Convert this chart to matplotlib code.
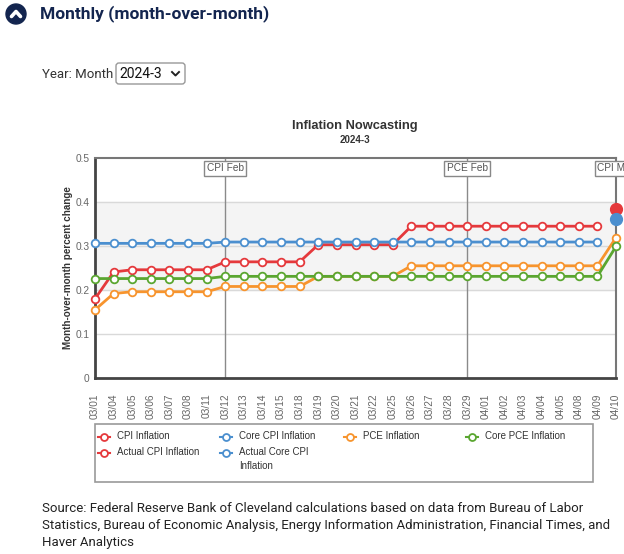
import matplotlib
matplotlib.use("Agg")
import matplotlib.pyplot as plt
from matplotlib.patches import Rectangle, FancyBboxPatch, Circle

dates = ["03/01", "03/04", "03/05", "03/06", "03/07", "03/08", "03/11", "03/12",
         "03/13", "03/14", "03/15", "03/18", "03/19", "03/20", "03/21", "03/22",
         "03/25", "03/26", "03/27", "03/28", "03/29", "04/01", "04/02", "04/03",
         "04/04", "04/05", "04/08", "04/09", "04/10"]
cpi = [0.180, 0.241] + [0.246] * 5 + [0.264] * 5 + [0.303] * 5 + [0.345] * 11
core_cpi = [0.306] * 7 + [0.309] * 21
pce = [0.155, 0.192] + [0.196] * 5 + [0.208] * 5 + [0.231] * 5 + [0.255] * 11 + [0.319]
core_pce = [0.226] * 7 + [0.231] * 21 + [0.299]
actual_cpi = 0.383
actual_core_cpi = 0.362
release_idx = [7, 20, 28]
release_lbl = ["CPI Feb", "PCE Feb", "CPI Mar"]
legend_labels = ["CPI Inflation", "Core CPI Inflation", "PCE Inflation", "Core PCE Inflation",
                 "Actual CPI Inflation", "Actual Core CPI\nInflation"]

RED, BLUE, ORANGE, GREEN = "#e5393c", "#4b8fcf", "#f7942d", "#5aa630"
W, H = 624, 554
plt.rcParams['font.family'] = ['Liberation Sans', 'DejaVu Sans']

fig = plt.figure(figsize=(W / 100, H / 100), dpi=100)
ov = fig.add_axes([0, 0, 1, 1], zorder=0)
ov.set_xlim(0, W); ov.set_ylim(H, 0); ov.axis("off")

# page header
ov.add_patch(Circle((16, 14), 10, color="#13254f"))
ov.plot([11.5, 16, 20.5], [16.5, 11.5, 16.5], color="white", lw=2.6, solid_capstyle="round")
ov.text(40, 14, "Monthly (month-over-month)", fontsize=12.5, fontweight="bold", color="#13254f",
        va="center", ha="left", family=['Roboto'])
ov.text(42, 74, "Year: Month", fontsize=9.5, color="#333333", va="center", family=['Roboto'])
ov.add_patch(FancyBboxPatch((116, 63), 69, 21, boxstyle="round,pad=0,rounding_size=3",
                            fc="white", ec="#999999", lw=1))
ov.text(119, 74, "2024-3", fontsize=10, color="#111111", va="center", family=['Roboto'])
ov.plot([172, 175.5, 179], [72, 75.5, 72], color="#222222", lw=1.4)

# chart titles
ov.text(355, 126, "Inflation Nowcasting", fontsize=9.3, fontweight="bold", color="#333333",
        ha="center", va="center")
ov.text(355, 140, "2024-3", fontsize=7, fontweight="bold", color="#333333",
        ha="center", va="center")

# main plot
ax = fig.add_axes([95 / W, 1 - 378 / H, (616 - 95) / W, (378 - 158) / H], zorder=2)
ax.set_facecolor("none")
x = list(range(len(dates)))
ax.axhspan(0.2, 0.4, color="#f4f4f4", zorder=0)
for v in [0.1, 0.2, 0.3, 0.4]:
    ax.axhline(v, color="#d9d9d9", lw=1, zorder=1)
for i, lbl in zip(release_idx, release_lbl):
    ax.axvline(i, color="#8a8a8a", lw=1, zorder=1)
    ax.text(i, 0.477, lbl, fontsize=7.3, color="#555555", ha="center", va="center", clip_on=False,
            zorder=6, bbox=dict(boxstyle="square,pad=0.25", fc="white", ec="#888888", lw=1))

mk = dict(marker="o", markersize=5.5, markerfacecolor="white", markeredgewidth=1.3,
          lw=2, clip_on=False, zorder=4)
ax.plot(x[:28], cpi, color=RED, **mk)
ax.plot(x[:28], core_cpi, color=BLUE, **mk)
ax.plot(x, pce, color=ORANGE, **mk)
ax.plot(x, core_pce, color=GREEN, **mk)
ax.plot([28], [actual_cpi], "o", color=RED, markersize=8.5, clip_on=False, zorder=5)
ax.plot([28], [actual_core_cpi], "o", color=BLUE, markersize=8.5, clip_on=False, zorder=5)

ax.set_xlim(0, 28)
ax.set_ylim(0, 0.5)
ax.set_yticks([0, 0.1, 0.2, 0.3, 0.4, 0.5])
ax.set_yticklabels(["0", "0.1", "0.2", "0.3", "0.4", "0.5"])
ax.set_xticks(x)
ax.set_xticklabels(dates, rotation=90)
ax.tick_params(axis="both", length=0, labelsize=7.3, labelcolor="#666666")
ax.tick_params(axis="x", pad=11)
ax.tick_params(axis="y", pad=4)
for s in ["top", "right"]:
    ax.spines[s].set_color("#777777"); ax.spines[s].set_linewidth(1.5)
for s in ["left", "bottom"]:
    ax.spines[s].set_color("#444444"); ax.spines[s].set_linewidth(2)
ax.set_ylabel("Month-over-month percent change", fontsize=7.1, fontweight="bold",
              color="#333333", labelpad=1.5)

# legend box, entries placed by hand like the web widget
ov.add_patch(Rectangle((95, 424), 498, 58, fc="white", ec="#999999", lw=1.2))
leg_colors = [RED, BLUE, ORANGE, GREEN, RED, BLUE]
leg_x = [104, 226, 350, 472, 104, 226]
leg_y = [437, 437, 437, 437, 453, 453]
for c, lx, ly, lbl in zip(leg_colors, leg_x, leg_y, legend_labels):
    ov.plot([lx - 6, lx + 6], [ly, ly], color=c, lw=1.5)
    ov.plot([lx], [ly], "o", color=c, markersize=5, markerfacecolor="white", markeredgewidth=1.3)
    ov.text(lx + 13, ly - 6, lbl, fontsize=7, color="#333333", va="top", ha="left",
            linespacing=1.55)

# source note
src = ("Source: Federal Reserve Bank of Cleveland calculations based on data from Bureau of Labor\n"
       "Statistics, Bureau of Economic Analysis, Energy Information Administration, Financial Times, and\n"
       "Haver Analytics")
ov.text(42, 502, src, fontsize=9.55, color="#222222", va="top", ha="left", linespacing=1.4,
        family=['Roboto'])

fig.savefig("out.png", dpi=100)
